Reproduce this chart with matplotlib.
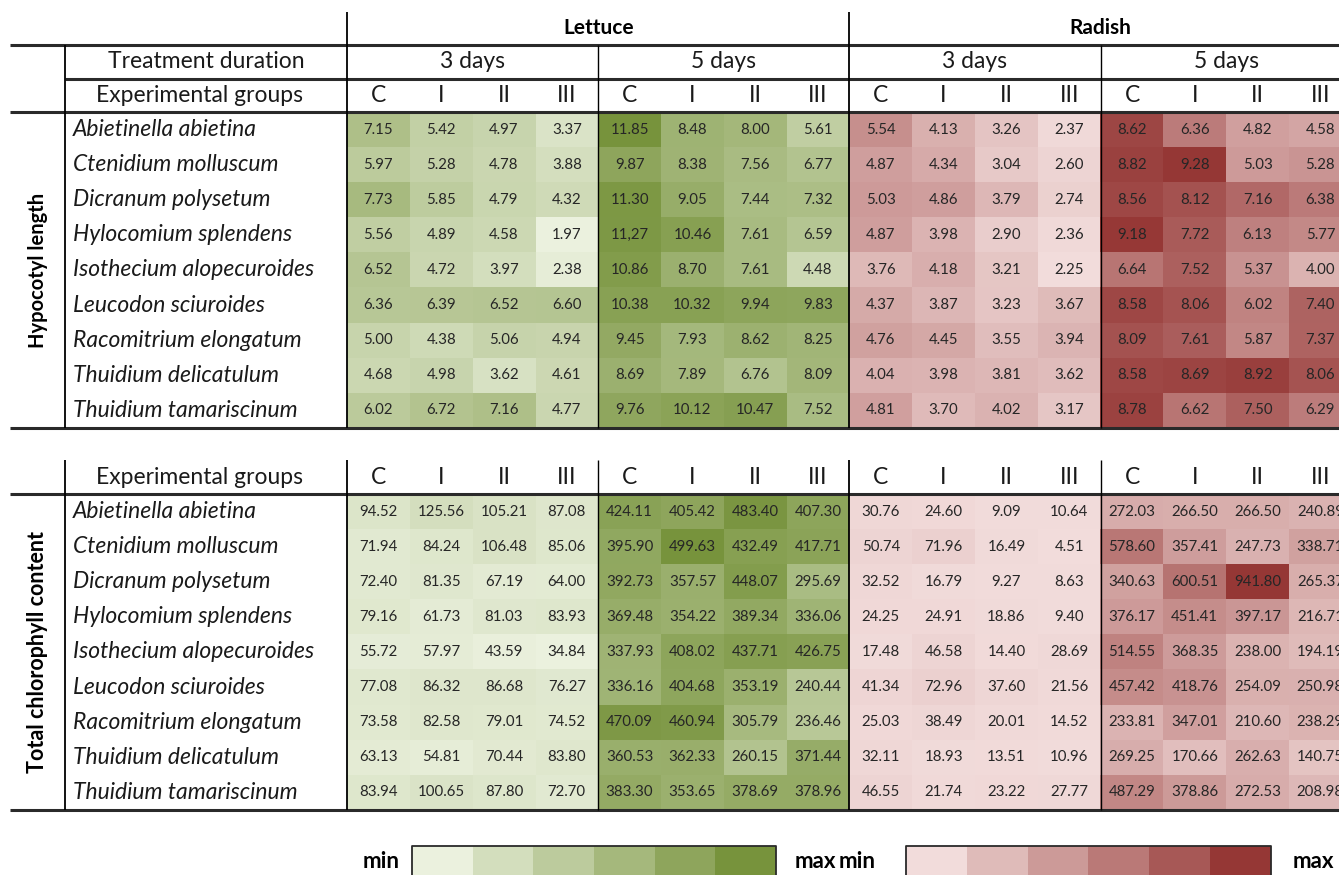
import numpy as np
import matplotlib.pyplot as plt
from matplotlib.colors import LinearSegmentedColormap, Normalize

plt.rcParams['font.family'] = ['Lato', 'DejaVu Sans']

# ---------------- data ----------------
species = ['Abietinella abietina', 'Ctenidium molluscum', 'Dicranum polysetum',
           'Hylocomium splendens', 'Isothecium alopecuroides', 'Leucodon sciuroides',
           'Racomitrium elongatum', 'Thuidium delicatulum', 'Thuidium tamariscinum']
crops = ['Lettuce', 'Radish']
durations = ['3 days', '5 days']
groups = ['C', 'I', 'II', 'III']

# hypocotyl length, columns: 3 days C I II III | 5 days C I II III
lettuce_hyp_txt = [
    ['7.15', '5.42', '4.97', '3.37', '11.85', '8.48', '8.00', '5.61'],
    ['5.97', '5.28', '4.78', '3.88', '9.87', '8.38', '7.56', '6.77'],
    ['7.73', '5.85', '4.79', '4.32', '11.30', '9.05', '7.44', '7.32'],
    ['5.56', '4.89', '4.58', '1.97', '11,27', '10.46', '7.61', '6.59'],
    ['6.52', '4.72', '3.97', '2.38', '10.86', '8.70', '7.61', '4.48'],
    ['6.36', '6.39', '6.52', '6.60', '10.38', '10.32', '9.94', '9.83'],
    ['5.00', '4.38', '5.06', '4.94', '9.45', '7.93', '8.62', '8.25'],
    ['4.68', '4.98', '3.62', '4.61', '8.69', '7.89', '6.76', '8.09'],
    ['6.02', '6.72', '7.16', '4.77', '9.76', '10.12', '10.47', '7.52'],
]
lettuce_hyp = np.array([[float(s.replace(',', '.')) for s in r] for r in lettuce_hyp_txt])

radish_hyp = np.array([
    [5.54, 4.13, 3.26, 2.37, 8.62, 6.36, 4.82, 4.58],
    [4.87, 4.34, 3.04, 2.60, 8.82, 9.28, 5.03, 5.28],
    [5.03, 4.86, 3.79, 2.74, 8.56, 8.12, 7.16, 6.38],
    [4.87, 3.98, 2.90, 2.36, 9.18, 7.72, 6.13, 5.77],
    [3.76, 4.18, 3.21, 2.25, 6.64, 7.52, 5.37, 4.00],
    [4.37, 3.87, 3.23, 3.67, 8.58, 8.06, 6.02, 7.40],
    [4.76, 4.45, 3.55, 3.94, 8.09, 7.61, 5.87, 7.37],
    [4.04, 3.98, 3.81, 3.62, 8.58, 8.69, 8.92, 8.06],
    [4.81, 3.70, 4.02, 3.17, 8.78, 6.62, 7.50, 6.29],
])

# total chlorophyll content
lettuce_chl = np.array([
    [94.52, 125.56, 105.21, 87.08, 424.11, 405.42, 483.40, 407.30],
    [71.94, 84.24, 106.48, 85.06, 395.90, 499.63, 432.49, 417.71],
    [72.40, 81.35, 67.19, 64.00, 392.73, 357.57, 448.07, 295.69],
    [79.16, 61.73, 81.03, 83.93, 369.48, 354.22, 389.34, 336.06],
    [55.72, 57.97, 43.59, 34.84, 337.93, 408.02, 437.71, 426.75],
    [77.08, 86.32, 86.68, 76.27, 336.16, 404.68, 353.19, 240.44],
    [73.58, 82.58, 79.01, 74.52, 470.09, 460.94, 305.79, 236.46],
    [63.13, 54.81, 70.44, 83.80, 360.53, 362.33, 260.15, 371.44],
    [83.94, 100.65, 87.80, 72.70, 383.30, 353.65, 378.69, 378.96],
])
radish_chl = np.array([
    [30.76, 24.60, 9.09, 10.64, 272.03, 266.50, 266.50, 240.89],
    [50.74, 71.96, 16.49, 4.51, 578.60, 357.41, 247.73, 338.71],
    [32.52, 16.79, 9.27, 8.63, 340.63, 600.51, 941.80, 265.37],
    [24.25, 24.91, 18.86, 9.40, 376.17, 451.41, 397.17, 216.71],
    [17.48, 46.58, 14.40, 28.69, 514.55, 368.35, 238.00, 194.19],
    [41.34, 72.96, 37.60, 21.56, 457.42, 418.76, 254.09, 250.98],
    [25.03, 38.49, 20.01, 14.52, 233.81, 347.01, 210.60, 238.29],
    [32.11, 18.93, 13.51, 10.96, 269.25, 170.66, 262.63, 140.75],
    [46.55, 21.74, 23.22, 27.77, 487.29, 378.86, 272.53, 208.98],
])

greens = LinearSegmentedColormap.from_list('greens', ['#EBF1DE', '#77933C'])
reds = LinearSegmentedColormap.from_list('reds', ['#F2DCDB', '#953735'])

# ---------------- layout (pixel units) ----------------
W, H = 1339, 875
X_OUT, X_LAB, X_DAT = 10, 65, 347
CW, RH = 62.8, 35.1
NC = len(groups) * len(durations)
LINE = '#2a2a2a'
FS = 16.5      # header / species text
FS_NUM = 10.8  # cell values
TXT = '#1a1a1a'

fig = plt.figure(figsize=(W / 100, H / 100), dpi=100)
ax = fig.add_axes([0, 0, 1, 1])
ax.set_xlim(0, W)
ax.set_ylim(H, 0)
ax.axis('off')


def hline(y, x0):
    ax.plot([x0, W], [y, y], color=LINE, lw=2.2, solid_capstyle='butt', zorder=5)


def vline(x, y0, y1, lw=1.3):
    ax.plot([x, x], [y0, y1], color='black', lw=lw, solid_capstyle='butt', zorder=5)


def block(vals, labels, cmap, x0, y0):
    nr, nc = vals.shape
    ax.imshow(vals, cmap=cmap, norm=Normalize(vals.min(), vals.max()),
              extent=[x0, x0 + nc * CW, y0 + nr * RH, y0],
              aspect='auto', interpolation='nearest', zorder=1)
    for i in range(nr):
        for j in range(nc):
            ax.text(x0 + (j + 0.5) * CW, y0 + (i + 0.5) * RH, labels[i][j],
                    ha='center', va='center', fontsize=FS_NUM, color='#262626', zorder=3)


def fmt(vals):
    return [[f'{v:.2f}' for v in r] for r in vals]


def group_header(y):
    for k in range(2 * NC):
        ax.text(X_DAT + (k + 0.5) * CW, y, groups[k % 4], ha='center', va='center',
                fontsize=FS, color=TXT)


def species_col(y0, title, fs_title):
    for i, s in enumerate(species):
        ax.text(X_LAB + 8, y0 + (i + 0.5) * RH, s, ha='left', va='center',
                fontsize=FS, style='italic', color=TXT)
    ax.text(38, y0 + 4.5 * RH, title, rotation=90, ha='center', va='center',
            fontsize=fs_title, fontweight='bold', color='black')


# ---------- hypocotyl length table ----------
Y_TOP, Y1, Y2, Y3 = 12, 45, 79, 112
Y_END = Y3 + 9 * RH

for c, crop in enumerate(crops):
    ax.text(X_DAT + (c * 2 + 1) * 4 * CW, 28, crop, ha='center', va='center',
            fontsize=15, fontweight='bold', color='black')
    for d, dur in enumerate(durations):
        ax.text(X_DAT + (c * 2 + d + 0.5) * 4 * CW, (Y1 + Y2) / 2, dur,
                ha='center', va='center', fontsize=FS, color=TXT)

ax.text((X_LAB + X_DAT) / 2, (Y1 + Y2) / 2, 'Treatment duration', ha='center',
        va='center', fontsize=FS, color=TXT)
ax.text((X_LAB + X_DAT) / 2 - 6, (Y2 + Y3) / 2, 'Experimental groups', ha='center',
        va='center', fontsize=FS, color=TXT)
group_header((Y2 + Y3) / 2)

block(lettuce_hyp, lettuce_hyp_txt, greens, X_DAT, Y3)
block(radish_hyp, fmt(radish_hyp), reds, X_DAT + NC * CW, Y3)
species_col(Y3, 'Hypocotyl length', 14.5)

hline(Y1, X_OUT)
hline(Y2, X_LAB)
hline(Y3, X_OUT)
hline(Y_END, X_OUT)
vline(X_LAB, Y1, Y_END)
vline(X_DAT, Y_TOP, Y_END)
vline(X_DAT + NC * CW, Y_TOP, Y_END)
vline(X_DAT + 4 * CW, Y1, Y_END, lw=1.0)
vline(X_DAT + 12 * CW, Y1, Y_END, lw=1.0)

# ---------- total chlorophyll table ----------
Z0, Z1 = 460, 494
Z_END = Z1 + 9 * RH

ax.text((X_LAB + X_DAT) / 2 - 6, (Z0 + Z1) / 2 + 1, 'Experimental groups', ha='center',
        va='center', fontsize=FS, color=TXT)
group_header((Z0 + Z1) / 2 + 1)

block(lettuce_chl, fmt(lettuce_chl), greens, X_DAT, Z1)
block(radish_chl, fmt(radish_chl), reds, X_DAT + NC * CW, Z1)
species_col(Z1, 'Total chlorophyll content', 15.5)

hline(Z1, X_OUT)
hline(Z_END, X_OUT)
vline(X_LAB, Z0, Z_END)
vline(X_DAT, Z0, Z_END)
vline(X_DAT + NC * CW, Z0, Z_END)
vline(X_DAT + 4 * CW, Z0, Z_END, lw=1.0)
vline(X_DAT + 12 * CW, Z0, Z_END, lw=1.0)

# ---------- colour keys ----------
steps = np.linspace(0, 1, 6)[None, :]
for cmap, x0, x1, tmin, tmax in [(greens, 412, 776, 381, 815),
                                 (reds, 906, 1271, 857, 1313)]:
    ax.imshow(steps, cmap=cmap, extent=[x0, x1, 885, 846], aspect='auto',
              interpolation='nearest', zorder=1)
    ax.plot([x0, x0, x1, x1], [885, 846, 846, 885], color=LINE, lw=1.3, zorder=5)
    ax.text(tmin, 862, 'min', ha='center', va='center', fontsize=16,
            fontweight='bold', color='black')
    ax.text(tmax, 862, 'max', ha='center', va='center', fontsize=16,
            fontweight='bold', color='black')

fig.savefig('out.png', dpi=100)
